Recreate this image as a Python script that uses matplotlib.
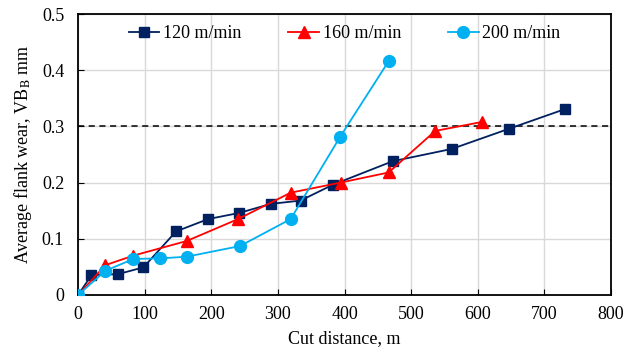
import matplotlib.pyplot as plt

plt.rcParams['font.family'] = ['Liberation Serif', 'DejaVu Serif']
plt.rcParams['mathtext.fontset'] = 'stix'

# cut distance (m) and flank wear VB_B (mm) for each cutting speed
x120 = [0, 20, 60, 98, 147, 195, 242, 289, 334, 382, 472, 561, 647, 731]
y120 = [0, 0.035, 0.037, 0.049, 0.113, 0.135, 0.146, 0.162, 0.168, 0.196, 0.238, 0.260, 0.296, 0.331]

x160 = [0, 41, 83, 163, 240, 319, 394, 466, 536, 606]
y160 = [0, 0.053, 0.070, 0.096, 0.135, 0.182, 0.200, 0.218, 0.292, 0.308]

x200 = [0, 41, 83, 123, 163, 243, 319, 393, 466]
y200 = [0, 0.043, 0.064, 0.065, 0.068, 0.087, 0.135, 0.281, 0.416]

labels = ['120 m/min', '160 m/min', '200 m/min']
limit = 0.3

fig = plt.figure(figsize=(6.3, 3.54), dpi=100)
ax = fig.add_axes([0.124, 0.167, 0.846, 0.793])

ax.plot(x120, y120, '-s', color='#002060', lw=1.3, ms=7.5, label=labels[0], zorder=3)
ax.plot(x160, y160, '-^', color='#FF0000', lw=1.3, ms=8, label=labels[1], zorder=3)
ax.plot(x200, y200, '-o', color='#00B0F0', lw=1.3, ms=8.5, label=labels[2], zorder=3)
ax.axhline(limit, color='black', ls='--', lw=1.1, dashes=(4, 3), zorder=2)

ax.set_xlim(0, 800)
ax.set_ylim(0, 0.5)
ax.set_xticks(range(0, 801, 100))
ax.set_yticks([0, 0.1, 0.2, 0.3, 0.4, 0.5])
ax.set_yticklabels(['0', '0.1', '0.2', '0.3', '0.4', '0.5'])
ax.grid(True, color='#d9d9d9', lw=1)
ax.set_axisbelow(True)
ax.tick_params(direction='in', labelsize=13, length=4)
ax.tick_params(axis='y', pad=10)
ax.tick_params(axis='x', pad=8)
for s in ax.spines.values():
    s.set_linewidth(1.3)

ax.set_xlabel('Cut distance, m', fontsize=13, labelpad=5)
ax.set_ylabel('Average flank wear, VB$_\\mathrm{B}$ mm', fontsize=13, labelpad=6)

ax.legend(loc='upper center', bbox_to_anchor=(0.5, 1.018), ncol=3, frameon=False,
          fontsize=13, columnspacing=2.6, handlelength=1.7, handletextpad=0.2)

fig.savefig('out.png', dpi=100)
